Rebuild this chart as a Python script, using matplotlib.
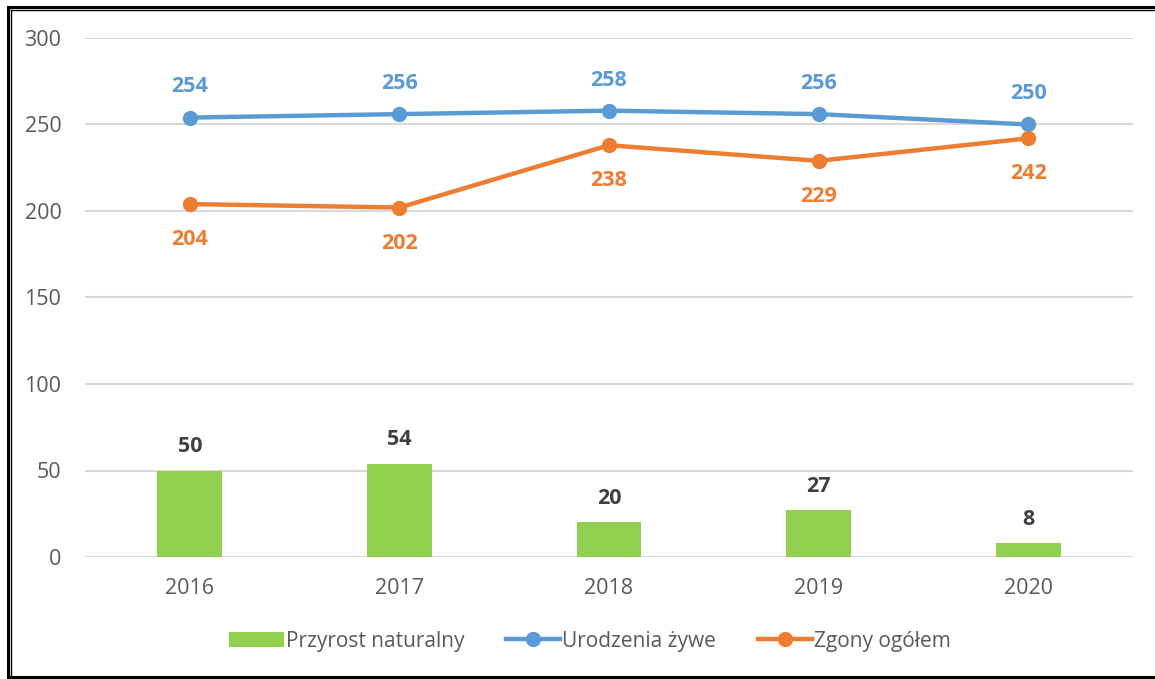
import matplotlib.pyplot as plt
from matplotlib.lines import Line2D
import numpy as np

years = ["2016", "2017", "2018", "2019", "2020"]
przyrost = [50, 54, 20, 27, 8]
urodzenia = [254, 256, 258, 256, 250]
zgony = [204, 202, 238, 229, 242]

plt.rcParams["font.family"] = ["Open Sans", "DejaVu Sans"]

W, H = 1155, 679
fig = plt.figure(figsize=(W / 100, H / 100), dpi=100)
ax = fig.add_axes([85 / W, 1 - 557 / H, (1133 - 85) / W, (557 - 38) / H])

x = np.arange(len(years))
green, blue, orange = "#92D050", "#5B9BD5", "#ED7D31"

ax.bar(x, przyrost, width=0.31, color=green, label="Przyrost naturalny", zorder=2)
ax.plot(x, urodzenia, color=blue, lw=3.2, marker="o", ms=10, label="Urodzenia żywe", zorder=3)
ax.plot(x, zgony, color=orange, lw=3.2, marker="o", ms=10, label="Zgony ogółem", zorder=3)

for i in range(len(years)):
    ax.annotate(str(przyrost[i]), (x[i], przyrost[i]), xytext=(0, 9.5), textcoords="offset points",
                ha="center", va="bottom", fontsize=15.5, fontweight="bold", color="#404040")
    ax.annotate(str(urodzenia[i]), (x[i], urodzenia[i]), xytext=(0, 14.5), textcoords="offset points",
                ha="center", va="bottom", fontsize=15.5, fontweight="bold", color=blue)
    ax.annotate(str(zgony[i]), (x[i], zgony[i]), xytext=(0, -18), textcoords="offset points",
                ha="center", va="top", fontsize=15.5, fontweight="bold", color=orange)

ax.set_xlim(-0.5, 4.5)
ax.set_ylim(0, 300)
ax.set_yticks(range(0, 301, 50))
ax.set_xticks(x)
ax.set_xticklabels(years)
ax.tick_params(axis="both", length=0, labelsize=15.5, labelcolor="#595959")
ax.tick_params(axis="x", pad=15)
ax.tick_params(axis="y", pad=17)
ax.grid(axis="y", color="#D9D9D9", lw=1.5, zorder=0)
ax.set_axisbelow(True)
for s in ax.spines.values():
    s.set_visible(False)

handles, labels = ax.get_legend_handles_labels()
order = [labels.index("Przyrost naturalny"), labels.index("Urodzenia żywe"), labels.index("Zgony ogółem")]
ax.legend([handles[i] for i in order], [labels[i] for i in order],
          loc="center", bbox_to_anchor=(590 / W, 1 - 641 / H), bbox_transform=fig.transFigure,
          ncol=3, frameon=False, fontsize=15, labelcolor="#595959", handlelength=2.6,
          handletextpad=0.1, columnspacing=2.0)


# double frame around the chart
def px_line(x0, y0, x1, y1, lw):
    fig.add_artist(Line2D([x0 / W, x1 / W], [1 - y0 / H, 1 - y1 / H], color="black", lw=lw,
                          transform=fig.transFigure))


px_line(7.5, 6.5, 7.5, 679, 2.2)
px_line(7.5, 6.5, 1155, 6.5, 2.2)
px_line(11, 10, 11, 679, 1)
px_line(11, 10, 1155, 10, 1)
px_line(7.5, 677, 1155, 677, 2.2)

fig.savefig("out.png", dpi=100)
